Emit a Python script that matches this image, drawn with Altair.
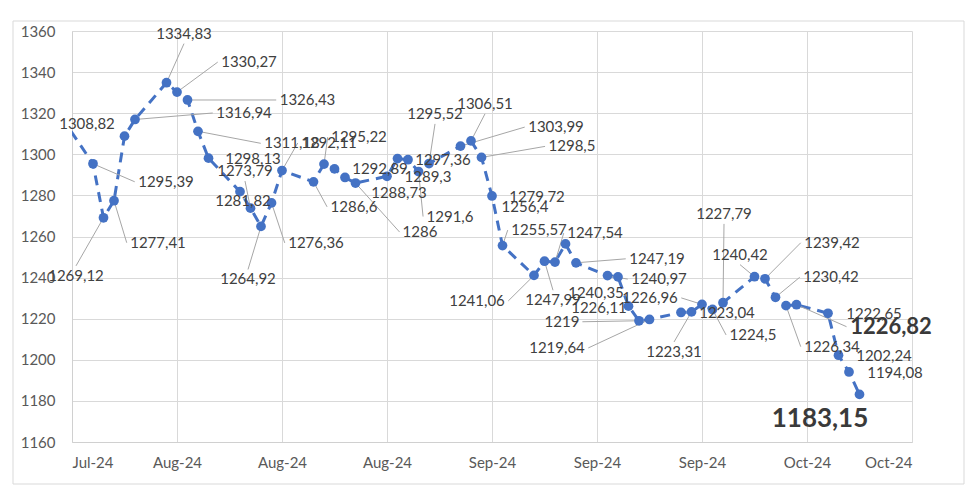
import json
import altair as alt
import pandas as pd

# ---------------- data ----------------
dates = [
    "2024-07-26", "2024-07-29", "2024-07-30", "2024-07-31", "2024-08-01", "2024-08-02",
    "2024-08-05", "2024-08-06", "2024-08-07", "2024-08-08", "2024-08-09",
    "2024-08-12", "2024-08-13", "2024-08-14", "2024-08-15", "2024-08-16",
    "2024-08-19", "2024-08-20", "2024-08-21", "2024-08-22", "2024-08-23",
    "2024-08-26", "2024-08-27", "2024-08-28", "2024-08-29", "2024-08-30",
    "2024-09-02", "2024-09-03", "2024-09-04", "2024-09-05", "2024-09-06",
    "2024-09-09", "2024-09-10", "2024-09-11", "2024-09-12", "2024-09-13",
    "2024-09-16", "2024-09-17", "2024-09-18", "2024-09-19", "2024-09-20",
    "2024-09-23", "2024-09-24", "2024-09-25", "2024-09-26", "2024-09-27",
    "2024-09-30", "2024-10-01", "2024-10-02", "2024-10-03", "2024-10-04",
    "2024-10-07", "2024-10-08", "2024-10-09", "2024-10-10",
]
values = [
    1318.0, 1295.39, 1269.12, 1277.41, 1308.82, 1316.94,
    1334.83, 1330.27, 1326.43, 1311.18, 1298.13,
    1281.82, 1273.79, 1264.92, 1276.36, 1292.11,
    1286.6, 1295.22, 1292.89, 1288.73, 1286.0,
    1289.3, 1297.9, 1297.36, 1291.6, 1295.52,
    1303.99, 1306.51, 1298.5, 1279.72, 1255.57,
    1241.06, 1247.99, 1247.54, 1256.4, 1247.19,
    1240.97, 1240.35, 1226.11, 1219.0, 1219.64,
    1223.04, 1223.31, 1226.96, 1224.5, 1227.79,
    1240.42, 1239.42, 1230.42, 1226.34, 1226.82,
    1222.65, 1202.24, 1194.08, 1183.15,
]
# which points carry a visible data label
show_label = [
    0, 1, 1, 1, 1, 1,
    1, 1, 1, 1, 1,
    1, 1, 1, 1, 1,
    1, 1, 1, 1, 1,
    1, 0, 1, 1, 1,
    1, 1, 1, 1, 1,
    1, 1, 1, 1, 1,
    1, 1, 1, 1, 1,
    1, 1, 1, 1, 1,
    1, 1, 1, 1, 1,
    1, 1, 1, 1,
]
tick_labels = ["Jul-24", "Aug-24", "Aug-24", "Aug-24", "Sep-24", "Sep-24", "Sep-24", "Oct-24", "Oct-24"]
y_ticks = list(range(1160, 1361, 20))

# ---------------- label layout (pixel nudges, kept apart from the data) ----------------
label_dx = [
    0, 73, -27.5, 44, -37.5, 109,
    17.5, 72, 120, 94, 44.5,
    3, -5.5, -13, 44.5, 47,
    40.5, 35, 45.5, 54, 64.5,
    41, 0, 35, 31.5, 6,
    95.5, 14, 90.5, 45, 36.5,
    -57, 8.5, 40, -40.5, 81,
    51.5, -22, -29.5, -77, -92.5,
    46, -17.5, -52, 40.5, 1,
    -14.5, 67, 55.5, 46, 94.5,
    46, 45.5, 46, -39.5,
]
label_dy = [
    0, 18, 58, 42, -12, -6.5,
    -49, -30, 0, 12, 1,
    9, -37, 53, 40, -27.5,
    25, -27, 0, 15.5, 49,
    0.5, 0, 0, 45, -49.5,
    -19, -37, -11, 1, -15.5,
    25.5, 39, -29, -37, -4,
    3.5, 16, 2, 1, 28.5,
    0.5, 40, -6.5, 25.5, -88.7,
    -22, -36, -20, 41, 22,
    0.5, 1, 1, 24.5,
]
leader = [
    0, 1, 1, 1, 0, 1,
    1, 1, 1, 1, 0,
    0, 1, 1, 1, 1,
    1, 1, 0, 0, 1,
    0, 0, 0, 1, 1,
    1, 1, 1, 0, 1,
    1, 1, 1, 0, 1,
    1, 0, 0, 1, 1,
    0, 1, 1, 1, 1,
    1, 1, 1, 1, 1,
    0, 0, 0, 0,
]
emphasis = {"2024-10-04": 22, "2024-10-10": 26}   # bold, larger labels
BASE_FS = 15

W, H = 840, 411
AXIS_START = pd.Timestamp("2024-07-27")
TICK_STEP = 10
x_max = TICK_STEP * (len(tick_labels) - 1)
px_day = W / x_max
px_val = H / (y_ticks[-1] - y_ticks[0])


def fmt(v):
    s = f"{v:.2f}".rstrip("0").rstrip(".")
    return s.replace(".", ",")


df = pd.DataFrame({"date": pd.to_datetime(dates), "value": values})
df["day"] = (df["date"] - AXIS_START).dt.days
df["label"] = [fmt(v) if s else "" for v, s in zip(values, show_label)]
dstr = df["date"].dt.strftime("%Y-%m-%d")
df["emph"] = dstr.isin(list(emphasis.keys()))
df["fs"] = [emphasis.get(d, BASE_FS) for d in dstr]
df["leader"] = leader

lx_list, ly_list, ex_list, ey_list = [], [], [], []
for day, val, dx, dy, lab, fs in zip(df["day"], df["value"], label_dx, label_dy, df["label"], df["fs"]):
    lx_list.append(day + dx / px_day)
    ly_list.append(val - dy / px_val)
    width = sum(0.29 if c == "," else 0.58 for c in lab) * fs
    hw = width / 2
    if abs(dx) > hw + 2:
        ex_px = dx - (1 if dx > 0 else -1) * (hw + 3)
        ey_px = dy
    else:
        ex_px = dx
        ey_px = dy - (1 if dy > 0 else -1) * (fs * 0.66)
    ex_list.append(day + ex_px / px_day)
    ey_list.append(val - ey_px / px_val)
df["lx"] = lx_list
df["ly"] = ly_list
df["ex"] = ex_list
df["ey"] = ey_list
df = df.drop(columns=["date"])

BLUE = "#4472C4"
FONT = "Lato"

xscale = alt.Scale(domain=[0, x_max], nice=False, zero=False)
yscale = alt.Scale(domain=[y_ticks[0], y_ticks[-1]], nice=False, zero=False)

x_enc = alt.X(
    "day:Q", scale=xscale,
    axis=alt.Axis(
        values=list(range(0, x_max + 1, TICK_STEP)),
        labelExpr=f"{json.dumps(tick_labels)}[round(datum.value/{TICK_STEP})]",
        title=None, grid=True, ticks=False, labelPadding=13,
    ),
)
y_enc = alt.Y(
    "value:Q", scale=yscale,
    axis=alt.Axis(values=y_ticks, format="d", title=None, grid=True, ticks=False, labelPadding=17),
)

base = alt.Chart(df)

frame = alt.Chart(pd.DataFrame({"a": [0]})).mark_rect(
    fillOpacity=0, stroke="#D9D9D9", strokeWidth=1
).encode(x=alt.value(-59), x2=alt.value(892), y=alt.value(-10), y2=alt.value(453))

leaders = base.transform_filter("datum.leader == 1").mark_rule(
    color="#A6A6A6", strokeWidth=1
).encode(x=alt.X("day:Q", scale=xscale), y=alt.Y("value:Q", scale=yscale), x2="ex:Q", y2="ey:Q")

line = base.mark_line(strokeDash=[10, 7], strokeWidth=3, color=BLUE, clip=True).encode(x=x_enc, y=y_enc)

points = base.mark_circle(size=95, color=BLUE, opacity=1, clip=True).encode(x="day:Q", y="value:Q")

labels = base.transform_filter("!datum.emph && datum.label != ''").mark_text(
    font=FONT, fontSize=BASE_FS, color="#404040", align="center", baseline="middle"
).encode(x="lx:Q", y="ly:Q", text="label:N")

big_labels = base.transform_filter("datum.emph").mark_text(
    font=FONT, fontWeight="bold", color="#3A3A3A", align="center", baseline="middle"
).encode(x="lx:Q", y="ly:Q", text="label:N", size=alt.Size("fs:Q", scale=None, legend=None))

chart = alt.layer(frame, line, leaders, points, labels, big_labels).properties(
    width=W, height=H,
    padding={"left": 64, "top": 23, "right": 60, "bottom": 45},
    autosize=alt.AutoSizeParams(type="none"),
    background="white",
).configure_axis(
    labelFont=FONT, labelFontSize=15, labelColor="#595959",
    gridColor="#D9D9D9", gridWidth=1, domainColor="#D0D0D0", domainWidth=1,
).configure_view(strokeWidth=0)

chart.save("out.html", embed_options={"renderer": "svg", "actions": False})
